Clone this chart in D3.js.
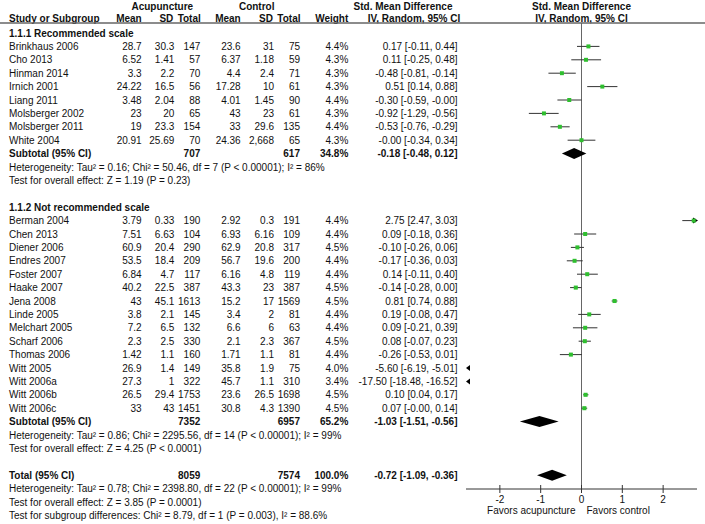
<!DOCTYPE html>
<html><head><meta charset="utf-8">
<script src="https://cdn.jsdelivr.net/npm/d3@7"></script>
<style>
html,body{margin:0;padding:0;background:#fff;}
svg text{font-family:"Liberation Sans",Arial,Helvetica,sans-serif;font-size:10px;fill:#111;}
</style></head>
<body><svg id="c" width="705" height="524"></svg>
<script>
// ---------- data ----------
const studies = ["Brinkhaus 2006","Cho 2013","Hinman 2014","Irnich 2001","Liang 2011","Molsberger 2002","Molsberger 2011","White 2004",
  "Berman 2004","Chen 2013","Diener 2006","Endres 2007","Foster 2007","Haake 2007","Jena 2008","Linde 2005","Melchart 2005","Scharf 2006","Thomas 2006","Witt 2005","Witt 2006a","Witt 2006b","Witt 2006c"];
const group = [0,0,0,0,0,0,0,0, 1,1,1,1,1,1,1,1,1,1,1,1,1,1,1];
const acuMean = ["28.7","6.52","3.3","24.22","3.48","23","19","20.91","3.79","7.51","60.9","53.5","6.84","40.2","43","3.8","7.2","2.3","1.42","26.9","27.3","26.5","33"];
const acuSD = ["30.3","1.41","2.2","16.5","2.04","20","23.3","25.69","0.33","6.63","20.4","18.4","4.7","22.5","45.1","2.1","6.5","2.5","1.1","1.4","1","29.4","43"];
const acuN = ["147","57","70","56","88","65","154","70","190","104","290","209","117","387","1613","145","132","330","160","149","322","1753","1451"];
const ctlMean = ["23.6","6.37","4.4","17.28","4.01","43","33","24.36","2.92","6.93","62.9","56.7","6.16","43.3","15.2","3.4","6.6","2.1","1.71","35.8","45.7","23.6","30.8"];
const ctlSD = ["31","1.18","2.4","10","1.45","23","29.6","2,668","0.3","6.16","20.8","19.6","4.8","23","17","2","6","2.3","1.1","1.9","1.1","26.5","4.3"];
const ctlN = ["75","59","71","61","90","61","135","65","191","109","317","200","119","387","1569","81","63","367","81","75","310","1698","1390"];
const weight = ["4.4%","4.3%","4.3%","4.3%","4.4%","4.3%","4.4%","4.3%","4.4%","4.4%","4.5%","4.4%","4.4%","4.5%","4.5%","4.4%","4.4%","4.5%","4.4%","4.0%","3.4%","4.5%","4.5%"];
const smd = ["0.17","0.11","-0.48","0.51","-0.30","-0.92","-0.53","-0.00","2.75","0.09","-0.10","-0.17","0.14","-0.14","0.81","0.19","0.09","0.08","-0.26","-5.60","-17.50","0.10","0.07"];
const ciLo = ["-0.11","-0.25","-0.81","0.14","-0.59","-1.29","-0.76","-0.34","2.47","-0.18","-0.26","-0.36","-0.11","-0.28","0.74","-0.08","-0.21","-0.07","-0.53","-6.19","-18.48","0.04","-0.00"];
const ciHi = ["0.44","0.48","-0.14","0.88","-0.00","-0.56","-0.29","0.34","3.03","0.36","0.06","0.03","0.40","0.00","0.88","0.47","0.39","0.23","0.01","-5.01","-16.52","0.17","0.14"];

const subNames = ["1.1.1 Recommended scale","1.1.2 Not recommended scale"];
const subAcuN = ["707","7352"];
const subCtlN = ["617","6957"];
const subWeight = ["34.8%","65.2%"];
const subSmd = ["-0.18","-1.03"];
const subLo = ["-0.48","-1.51"];
const subHi = ["0.12","-0.56"];
const subHet = ["Heterogeneity: Tau\u00b2 = 0.16; Chi\u00b2 = 50.46, df = 7 (P < 0.00001); I\u00b2 = 86%",
                "Heterogeneity: Tau\u00b2 = 0.86; Chi\u00b2 = 2295.56, df = 14 (P < 0.00001); I\u00b2 = 99%"];
const subTest = ["Test for overall effect: Z = 1.19 (P = 0.23)","Test for overall effect: Z = 4.25 (P < 0.0001)"];

const totAcuN = "8059", totCtlN = "7574", totWeight = "100.0%";
const totSmd = "-0.72", totLo = "-1.09", totHi = "-0.36";
const totLines = ["Heterogeneity: Tau\u00b2 = 0.78; Chi\u00b2 = 2398.80, df = 22 (P < 0.00001); I\u00b2 = 99%",
  "Test for overall effect: Z = 3.85 (P = 0.0001)",
  "Test for subgroup differences: Chi\u00b2 = 8.79, df = 1 (P = 0.003), I\u00b2 = 88.6%"];

const ticks = [-2,-1,0,1,2];
const favors = ["Favors acupuncture","Favors control"];

// ---------- layout ----------
const svg = d3.select("#c");
const W = 705;
const x = d3.scaleLinear().domain([-2.83, 2.83]).range([466, 697]);
const step = 13.4, y0 = 33;
const lineY = k => y0 + k*step;
const axisY = 489;
const green = "#2fbf2f";
const col = {name:9, am:141.7, asd:174.3, an:200.3, cm:240.7, csd:274, cn:300, w:348.3, ci:457.5};

function txt(xp, yp, s, anchor, bold){
  return svg.append("text").attr("x",xp).attr("y",yp).attr("dy","0.35em")
    .attr("text-anchor",anchor||"start").attr("font-weight",bold?"bold":null).text(s);
}

// header
txt(162.3, 6, "Acupuncture", "middle", true);
txt(256.7, 6, "Control", "middle", true);
txt(403, 6, "Std. Mean Difference", "middle", true);
txt(581.5, 6, "Std. Mean Difference", "middle", true);
txt(col.name, 18.3, "Study or Subgroup", "start", true);
txt(col.am, 18.3, "Mean", "end", true);
txt(col.asd - 1, 18.3, "SD", "end", true);
txt(col.an + 0.5, 18.3, "Total", "end", true);
txt(col.cm, 18.3, "Mean", "end", true);
txt(col.csd - 1, 18.3, "SD", "end", true);
txt(col.cn + 0.5, 18.3, "Total", "end", true);
txt(col.w, 18.3, "Weight", "end", true);
txt(414, 18.3, "IV, Random, 95% CI", "middle", true);
txt(581.5, 18.3, "IV, Random, 95% CI", "middle", true);
svg.append("line").attr("x1",0).attr("x2",W).attr("y1",23).attr("y2",23)
  .attr("stroke","#666").attr("stroke-width",1.5);

// zero line
svg.append("line").attr("x1",x(0)).attr("x2",x(0)).attr("y1",23).attr("y2",axisY)
  .attr("stroke","#666").attr("stroke-width",1);

// rows
let k = 0;
const plot = svg.append("g");
function diamond(yc, m, l, h){
  const hh = 5.5;
  plot.append("path").attr("d",
    `M${x(+l)},${yc} L${x(+m)},${yc-hh} L${x(+h)},${yc} L${x(+m)},${yc+hh} Z`).attr("fill","#000");
}
[0,1].forEach(g => {
  txt(col.name, lineY(k), subNames[g], "start", true); k++;
  studies.forEach((s,i) => {
    if (group[i] !== g) return;
    const yy = lineY(k);
    txt(col.name, yy, s);
    txt(col.am, yy, acuMean[i], "end");
    txt(col.asd, yy, acuSD[i], "end");
    txt(col.an, yy, acuN[i], "end");
    txt(col.cm, yy, ctlMean[i], "end");
    txt(col.csd, yy, ctlSD[i], "end");
    txt(col.cn, yy, ctlN[i], "end");
    txt(col.w, yy, weight[i], "end");
    txt(col.ci, yy, `${smd[i]} [${ciLo[i]}, ${ciHi[i]}]`, "end");
    const [d0,d1] = x.domain();
    const m = +smd[i], l = +ciLo[i], h = +ciHi[i];
    if (h < d0) {
      plot.append("path").attr("d",`M${x(d0)},${yy} l4,-3 l0,6 Z`).attr("fill","#000");
    } else if (l > d1) {
      plot.append("path").attr("d",`M${x(d1)},${yy} l-4,-3 l0,6 Z`).attr("fill","#000");
    } else {
      const a = Math.max(l,d0), b = Math.min(h,d1);
      plot.append("line").attr("x1",x(a)).attr("x2",x(b)).attr("y1",yy).attr("y2",yy)
        .attr("stroke","#333").attr("stroke-width",1);
      if (h > d1) plot.append("path").attr("d",`M${x(d1)+1},${yy} l-5,-3 l0,6 Z`).attr("fill","#000");
      if (l < d0) plot.append("path").attr("d",`M${x(d0)-1},${yy} l5,-3 l0,6 Z`).attr("fill","#000");
      if (m >= d0 && m <= d1) {
        const sz = 4*Math.sqrt(parseFloat(weight[i])/4.4);
        plot.append("rect").attr("x",x(m)-sz/2).attr("y",yy-sz/2).attr("width",sz).attr("height",sz).attr("fill",green);
      }
    }
    k++;
  });
  const ys = lineY(k);
  txt(col.name, ys, "Subtotal (95% CI)", "start", true);
  txt(col.an, ys, subAcuN[g], "end", true);
  txt(col.cn, ys, subCtlN[g], "end", true);
  txt(col.w, ys, subWeight[g], "end", true);
  txt(col.ci, ys, `${subSmd[g]} [${subLo[g]}, ${subHi[g]}]`, "end", true);
  diamond(ys, subSmd[g], subLo[g], subHi[g]);
  k++;
  txt(col.name, lineY(k), subHet[g]); k++;
  txt(col.name, lineY(k), subTest[g]); k++;
  k++; // blank
});
const yt = lineY(k);
txt(col.name, yt, "Total (95% CI)", "start", true);
txt(col.an, yt, totAcuN, "end", true);
txt(col.cn, yt, totCtlN, "end", true);
txt(col.w, yt, totWeight, "end", true);
txt(col.ci, yt, `${totSmd} [${totLo}, ${totHi}]`, "end", true);
diamond(yt, totSmd, totLo, totHi);
k++;
totLines.forEach(s => { txt(col.name, lineY(k), s); k++; });

// axis
const ax = svg.append("g");
ax.append("line").attr("x1",x.range()[0]).attr("x2",x.range()[1]).attr("y1",axisY).attr("y2",axisY)
  .attr("stroke","#333").attr("stroke-width",1);
ax.selectAll("line.t").data(ticks).enter().append("line").attr("class","t")
  .attr("x1",d=>x(d)).attr("x2",d=>x(d)).attr("y1",axisY-4).attr("y2",axisY+4)
  .attr("stroke","#333").attr("stroke-width",1);
ax.selectAll("text.t").data(ticks).enter().append("text").attr("class","t")
  .attr("x",d=>x(d)).attr("y",499.5).attr("dy","0.35em").attr("text-anchor","middle").text(d=>d);
txt(x(0)-6, 510.5, favors[0], "end");
txt(x(0)+5, 510.5, favors[1], "start");
</script></body></html>
